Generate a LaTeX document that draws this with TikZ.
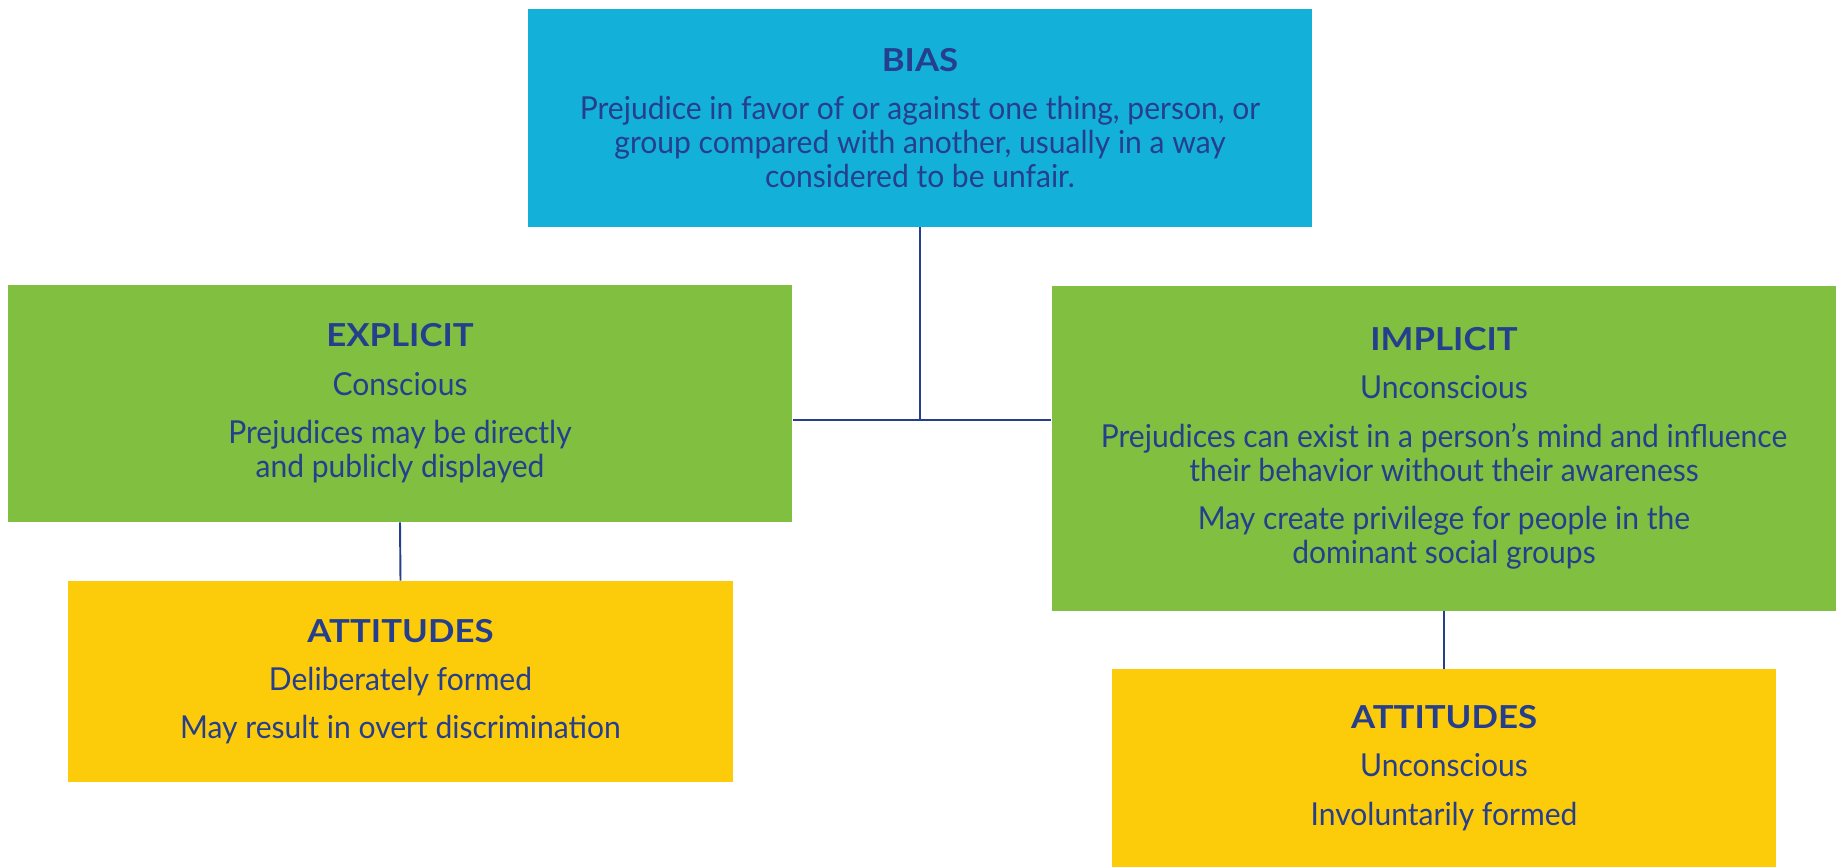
\documentclass[tikz,border=0pt]{standalone}
\usepackage{fontspec}
\setmainfont{Lato}[FakeStretch=0.95]
\newfontfamily\headfont{Lato}[FakeStretch=1.1]
\usetikzlibrary{positioning}
\definecolor{Navy}{HTML}{263F8C}
\definecolor{Sky}{HTML}{13B0D9}
\definecolor{Leaf}{HTML}{80BF40}
\definecolor{Sun}{HTML}{FCCB0A}
\newcommand{\cardhead}[1]{{\headfont\bfseries #1}}

\begin{document}
\begin{tikzpicture}[x=0.02cm,y=-0.02cm,
      card/.style={rectangle,inner sep=0pt,align=center,text=Navy,
                   font=\fontsize{18}{19.5}\selectfont},
      biasbox/.style={card,fill=Sky,minimum width=15.68cm,minimum height=4.36cm},
      kindbox/.style={card,fill=Leaf,minimum width=15.7cm},
      attbox/.style={card,fill=Sun,minimum width=13.3cm},
      link/.style={draw=Navy,line width=1.1pt}]
    \useasboundingbox (0,0) rectangle (1845,867);
    \node[biasbox] (bias) at (920,118)
      {\cardhead{BIAS}\\[8pt]
       Prejudice in favor of or against one thing, person, or\\
       group compared with another, usually in a way\\
       considered to be unfair.};
    \node[kindbox,minimum height=4.74cm] (explicit) at (400,403.5)
      {\cardhead{EXPLICIT}\\[8pt]
       Conscious\\[8pt]
       Prejudices may be directly\\
       and publicly displayed};
    \node[kindbox,minimum height=6.5cm] (implicit) at (1444,448.5)
      {\cardhead{IMPLICIT}\\[8pt]
       Unconscious\\[8pt]
       Prejudices can exist in a person’s mind and influence\\
       their behavior without their awareness\\[8pt]
       May create privilege for people in the\\
       dominant social groups};
    \node[attbox,minimum height=4.02cm] (attexp) at (400.5,681.5)
      {\cardhead{ATTITUDES}\\[8pt]
       Deliberately formed\\[8pt]
       May result in overt discrimination};
    \node[attbox,minimum height=3.96cm] (attimp) at (1444,768)
      {\cardhead{ATTITUDES}\\[8pt]
       Unconscious\\[8pt]
       Involuntarily formed};
    \coordinate (hub) at (920,420);
    \draw[link] (bias.south) -- (hub);
    \draw[link] (explicit.east |- hub) -- (implicit.west |- hub);
    \draw[link] (explicit.south) -- (attexp.north);
    \draw[link] (implicit.south) -- (attimp.north);
  \end{tikzpicture}
\end{document}
